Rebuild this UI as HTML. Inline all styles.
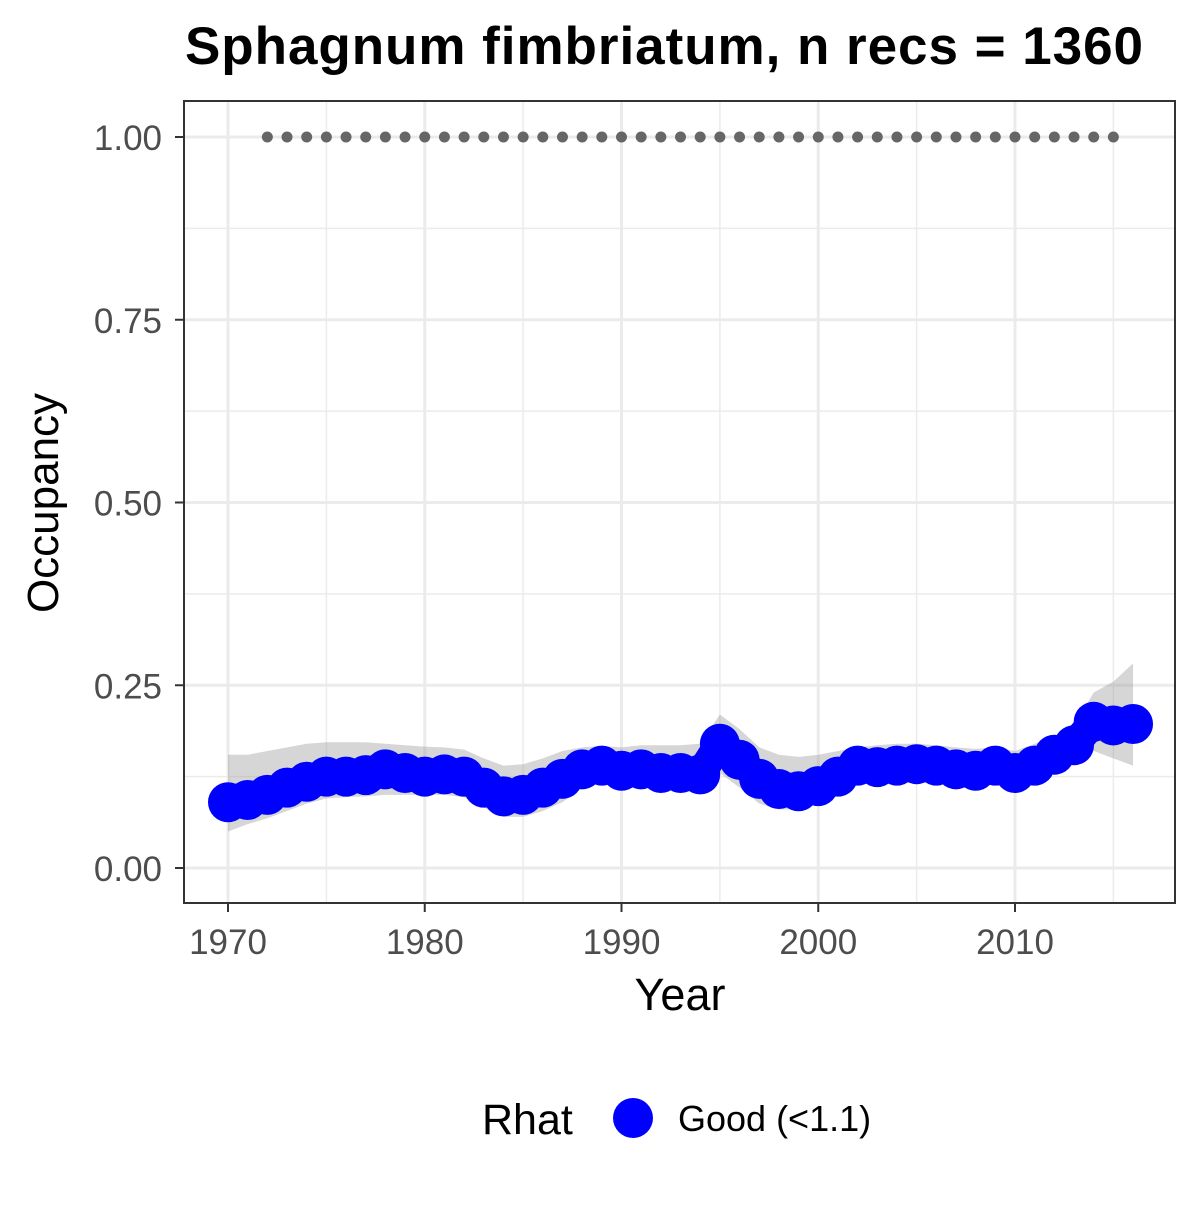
<!DOCTYPE html>
<html><head><meta charset="utf-8"><style>
body{margin:0;background:#fff;width:1200px;height:1200px;overflow:hidden}
svg text{font-family:"Liberation Sans",sans-serif}
</style></head><body>
<svg id="chart" width="1200" height="1200" xmlns="http://www.w3.org/2000/svg">
<text x="664" y="64" text-anchor="middle" font-size="53" font-weight="bold" textLength="958">Sphagnum fimbriatum, n recs = 1360</text>
<g id="grid"></g>
<g id="marks"></g>
<rect x="184" y="101" width="991" height="802" fill="none" stroke="#333" stroke-width="2"/>
<g id="axes"></g>
<text x="680" y="1010" text-anchor="middle" font-size="45">Year</text>
<text transform="translate(58,503) rotate(-90)" text-anchor="middle" font-size="44">Occupancy</text>
<g>
<text x="482" y="1134" font-size="43">Rhat</text>
<circle cx="633" cy="1118" r="20" fill="#0000ff"/>
<text x="678" y="1131" font-size="36">Good (&lt;1.1)</text>
</g>
</svg>
<script>
const years=[1970,1971,1972,1973,1974,1975,1976,1977,1978,1979,1980,1981,1982,1983,1984,1985,1986,1987,1988,1989,1990,1991,1992,1993,1994,1995,1996,1997,1998,1999,2000,2001,2002,2003,2004,2005,2006,2007,2008,2009,2010,2011,2012,2013,2014,2015,2016];
const occupancy=[0.09,0.093,0.10,0.11,0.118,0.125,0.125,0.127,0.135,0.13,0.125,0.128,0.125,0.11,0.098,0.10,0.11,0.122,0.135,0.14,0.133,0.135,0.13,0.13,0.128,0.17,0.148,0.122,0.108,0.105,0.112,0.125,0.14,0.138,0.14,0.142,0.14,0.135,0.133,0.14,0.13,0.14,0.155,0.168,0.2,0.195,0.197];
const upper=[0.155,0.155,0.16,0.165,0.17,0.172,0.172,0.172,0.17,0.168,0.166,0.165,0.162,0.15,0.14,0.142,0.15,0.16,0.165,0.167,0.165,0.168,0.168,0.168,0.17,0.21,0.19,0.165,0.155,0.152,0.155,0.16,0.165,0.168,0.17,0.17,0.168,0.165,0.163,0.165,0.16,0.17,0.18,0.195,0.24,0.255,0.28];
const lower=[0.05,0.06,0.068,0.078,0.088,0.095,0.097,0.098,0.1,0.1,0.1,0.1,0.097,0.083,0.07,0.07,0.078,0.09,0.11,0.118,0.115,0.115,0.112,0.113,0.115,0.13,0.11,0.088,0.08,0.08,0.088,0.103,0.12,0.12,0.122,0.122,0.12,0.117,0.115,0.118,0.12,0.125,0.135,0.15,0.16,0.15,0.14];
const rhatYears=[1972,1973,1974,1975,1976,1977,1978,1979,1980,1981,1982,1983,1984,1985,1986,1987,1988,1989,1990,1991,1992,1993,1994,1995,1996,1997,1998,1999,2000,2001,2002,2003,2004,2005,2006,2007,2008,2009,2010,2011,2012,2013,2014,2015];
const rhatLine=1.0;
const xTicks=[1970,1980,1990,2000,2010];
const yTicks=[0,0.25,0.5,0.75,1.0];
const yTickLabels=["0.00","0.25","0.50","0.75","1.00"];
const X=y=>228+(y-1970)*19.675;
const Y=v=>868-v*731;
const NS="http://www.w3.org/2000/svg";
function mk(parent,tag,attrs){const e=document.createElementNS(NS,tag);for(const k in attrs)e.setAttribute(k,attrs[k]);document.getElementById(parent).appendChild(e);return e;}
for(let y=1975;y<=2015;y+=10){const e=mk('grid','line',{x1:X(y),x2:X(y),y1:101,y2:903,stroke:'#ebebeb','stroke-width':1.5});

}
for(let v=0.125;v<1;v+=0.25){const e=mk('grid','line',{x1:184,x2:1175,y1:Y(v),y2:Y(v),stroke:'#ebebeb','stroke-width':1.5});

}
xTicks.forEach(t=>{const e=mk('grid','line',{x1:X(t),x2:X(t),y1:101,y2:903,stroke:'#ebebeb','stroke-width':3});


const tk=mk('axes','line',{x1:X(t),x2:X(t),y1:903,y2:912,stroke:'#333','stroke-width':2});


const tx=mk('axes','text',{x:X(t),y:954,'text-anchor':'middle','font-size':35,fill:'#4d4d4d'});tx.textContent=t;

});
yTicks.forEach((t,i)=>{const e=mk('grid','line',{x1:184,x2:1175,y1:Y(t),y2:Y(t),stroke:'#ebebeb','stroke-width':3});


const tk=mk('axes','line',{x1:175,x2:184,y1:Y(t),y2:Y(t),stroke:'#333','stroke-width':2});


const tx=mk('axes','text',{x:162,y:Y(t)+13,'text-anchor':'end','font-size':35,fill:'#4d4d4d'});tx.textContent=yTickLabels[i];

});
let d='M'+years.map((y,i)=>X(y)+','+Y(upper[i])).join('L')+'L'+years.map((y,i)=>X(y)+','+Y(lower[i])).reverse().join('L')+'Z';
const rib=mk('marks','path',{d:d,fill:'#999','fill-opacity':0.4});


const ln=mk('marks','polyline',{points:years.map((y,i)=>X(y)+','+Y(occupancy[i])).join(' '),fill:'none',stroke:'#0000ff','stroke-width':30,'stroke-linejoin':'round'});


years.forEach((y,i)=>{const c=mk('marks','circle',{cx:X(y),cy:Y(occupancy[i]),r:20,fill:'#0000ff'});

});
rhatYears.forEach(y=>{const c=mk('marks','circle',{cx:X(y),cy:Y(rhatLine),r:5.5,fill:'#666'});

});
</script>
</body></html>
